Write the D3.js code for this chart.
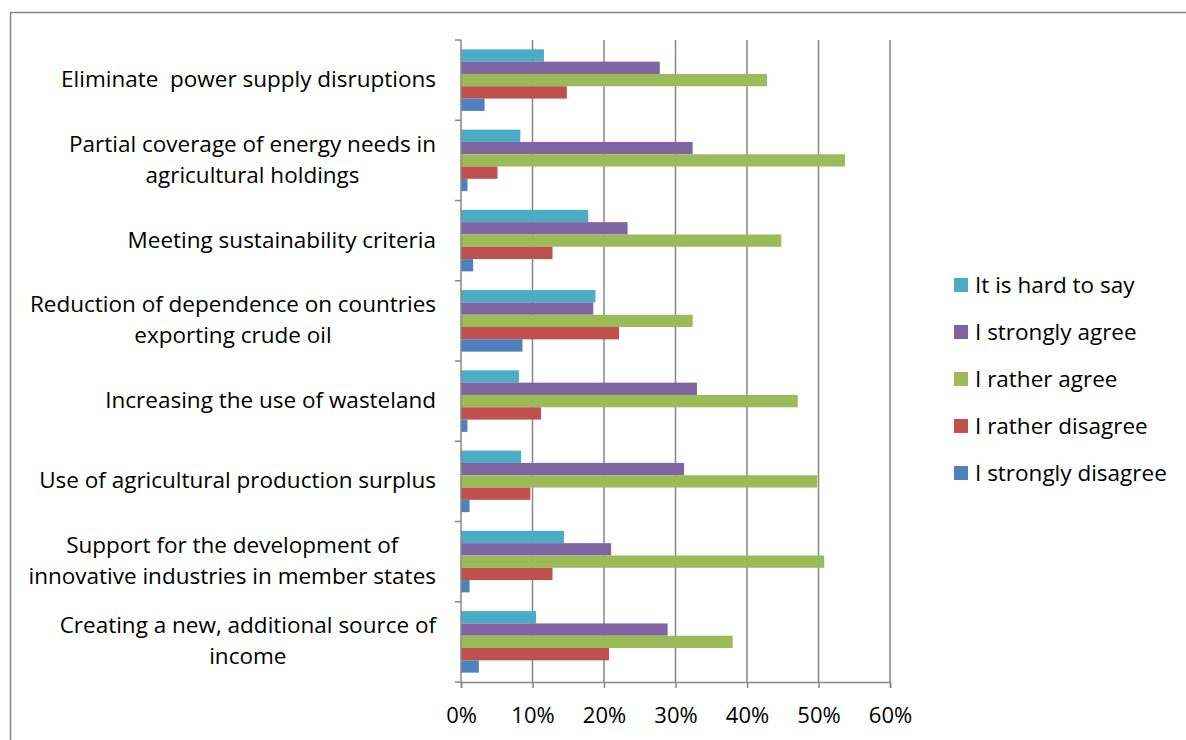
<!DOCTYPE html>
<html>
<head>
<meta charset="utf-8">
<script src="https://cdn.jsdelivr.net/npm/d3@7"></script>
<style>
  body { margin: 0; background: #fff; }
  text { font-family: "Open Sans", Lato, sans-serif; fill: #000; white-space: pre; }
</style>
</head>
<body>
<div id="chart"></div>
<script>
// categories top to bottom, each as its label lines
var categories = [
  ["Eliminate  power supply disruptions"],
  ["Partial coverage of energy needs in", "agricultural holdings"],
  ["Meeting sustainability criteria"],
  ["Reduction of dependence on countries", "exporting crude oil"],
  ["Increasing the use of wasteland"],
  ["Use of agricultural production surplus"],
  ["Support for the development of", "innovative industries in member states"],
  ["Creating a new, additional source of", "income"]
];
// series in the order they are drawn in each group (top to bottom) and in the legend
var seriesNames = ["It is hard to say", "I strongly agree", "I rather agree", "I rather disagree", "I strongly disagree"];
var seriesColors = ["#4bacc6", "#8064a2", "#9bbb59", "#c0504d", "#4f81bd"];

// values per category, same order as seriesNames
var hardToSay        = [0.116, 0.083, 0.178, 0.188, 0.081, 0.084, 0.144, 0.105];
var stronglyAgree    = [0.278, 0.324, 0.233, 0.185, 0.330, 0.312, 0.210, 0.289];
var ratherAgree      = [0.428, 0.537, 0.448, 0.324, 0.471, 0.498, 0.508, 0.380];
var ratherDisagree   = [0.148, 0.051, 0.128, 0.221, 0.112, 0.097, 0.128, 0.207];
var stronglyDisagree = [0.033, 0.009, 0.017, 0.086, 0.009, 0.012, 0.012, 0.025];
var seriesValues = [hardToSay, stronglyAgree, ratherAgree, ratherDisagree, stronglyDisagree];

var xTicks = [0, 0.1, 0.2, 0.3, 0.4, 0.5, 0.6];

var svgWidth = 1186, svgHeight = 740;
var plot = {left: 461, right: 890, top: 40, bottom: 682};
var fontSize = 22.5;

var svg = d3.select("#chart").append("svg")
    .attr("width", svgWidth)
    .attr("height", svgHeight);

// outer frame (runs off the right and bottom edges)
svg.append("rect")
    .attr("x", 10.5).attr("y", 12.5)
    .attr("width", 1200).attr("height", 800)
    .attr("fill", "none")
    .attr("stroke", "#878787")
    .attr("stroke-width", 1.5);

var x = d3.scaleLinear().domain([0, 0.6]).range([plot.left, plot.right]);
var y = d3.scaleBand().domain(d3.range(categories.length)).range([plot.top, plot.bottom]);
var ySub = d3.scaleBand().domain(d3.range(seriesNames.length))
    .range([0, y.bandwidth()]).paddingOuter(0.76).paddingInner(0);

// gridlines
svg.append("g").selectAll("line")
    .data(xTicks.slice(1))
    .enter().append("line")
    .attr("x1", d => x(d)).attr("x2", d => x(d))
    .attr("y1", plot.top).attr("y2", plot.bottom)
    .attr("stroke", "#878787")
    .attr("stroke-width", 1.5);

// bars
var groups = svg.append("g").selectAll("g")
    .data(categories)
    .enter().append("g")
    .attr("transform", (d, i) => `translate(0, ${y(i)})`);

groups.selectAll("rect")
    .data((d, i) => seriesValues.map((vals, s) => ({s: s, v: vals[i]})))
    .enter().append("rect")
    .attr("x", x(0))
    .attr("y", d => ySub(d.s))
    .attr("width", d => x(d.v) - x(0))
    .attr("height", ySub.bandwidth())
    .attr("fill", d => seriesColors[d.s]);

// bottom axis
var bottomAxis = d3.axisBottom(x).tickValues(xTicks).tickFormat(d3.format(".0%"))
    .tickSize(6).tickPadding(19);
var xAxis = svg.append("g")
    .attr("transform", `translate(0, ${plot.bottom})`)
    .call(bottomAxis);
xAxis.select(".domain").attr("stroke", "#878787").attr("stroke-width", 1.5);
xAxis.selectAll(".tick line").attr("stroke", "#878787").attr("stroke-width", 1.5);
xAxis.selectAll(".tick text").attr("font-size", 22).attr("fill", "#000")
    .style("font-family", "'Open Sans', Lato, sans-serif");

// left axis line + category boundary ticks
svg.append("line")
    .attr("x1", plot.left).attr("x2", plot.left)
    .attr("y1", plot.top).attr("y2", plot.bottom)
    .attr("stroke", "#878787").attr("stroke-width", 1.5);
svg.append("g").selectAll("line")
    .data(d3.range(categories.length + 1))
    .enter().append("line")
    .attr("x1", plot.left - 6).attr("x2", plot.left)
    .attr("y1", d => plot.top + d * y.step()).attr("y2", d => plot.top + d * y.step())
    .attr("stroke", "#878787").attr("stroke-width", 1.5);

// category labels, centred lines, block right-aligned at 436
var lineH = 31;
var labelRight = 436;
categories.forEach(function(lines, i) {
    var cy = y(i) + y.bandwidth() / 2 - 1;
    var g = svg.append("g");
    var texts = lines.map(function(line, j) {
        return g.append("text")
            .attr("font-size", fontSize)
            .attr("text-anchor", "middle")
            .attr("y", cy + (j - (lines.length - 1) / 2) * lineH)
            .attr("dy", "0.35em")
            .text(line);
    });
    var maxW = d3.max(texts, t => t.node().getComputedTextLength());
    texts.forEach(t => t.attr("x", labelRight - maxW / 2));
});

// legend
var legend = svg.append("g").selectAll("g")
    .data(seriesNames)
    .enter().append("g")
    .attr("transform", (d, i) => `translate(954, ${285 + i * 47})`);
legend.append("rect")
    .attr("x", 0).attr("y", -7)
    .attr("width", 14).attr("height", 14)
    .attr("fill", (d, i) => seriesColors[i]);
legend.append("text")
    .attr("x", 21).attr("dy", "0.35em")
    .attr("font-size", fontSize)
    .text(d => d);
</script>
</body>
</html>
